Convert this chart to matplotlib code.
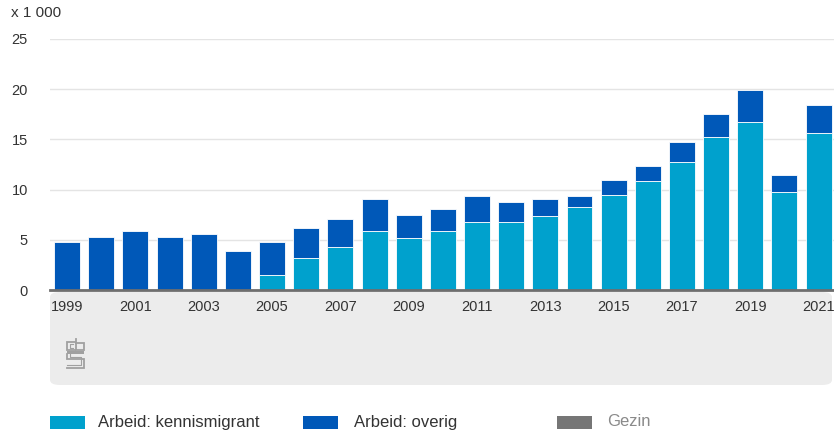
import numpy as np
import matplotlib.pyplot as plt
from matplotlib.patches import FancyBboxPatch, Rectangle

plt.rcParams['font.family'] = ['Liberation Sans', 'DejaVu Sans']

years = list(range(1999, 2022))
totaal = [4.8, 5.25, 5.85, 5.25, 5.6, 3.9, 4.8, 6.2, 7.05, 9.05, 7.5,
          8.05, 9.35, 8.8, 9.05, 9.35, 10.95, 12.4, 14.75, 17.5, 19.95, 11.45, 18.4]
kennismigrant = [0, 0, 0, 0, 0, 0, 1.45, 3.15, 4.25, 5.9, 5.15,
                 5.9, 6.75, 6.75, 7.35, 8.3, 9.45, 10.9, 12.75, 15.25, 16.75, 9.75, 15.6]
overig = [t - k for t, k in zip(totaal, kennismigrant)]
xticks = list(range(1999, 2022, 2))
yticks = [0, 5, 10, 15, 20, 25]

c_kennis = '#00a1cd'
c_overig = '#0058b8'
c_gezin = '#767676'

fig = plt.figure(figsize=(8.34, 4.32), dpi=100)

# grey panel under the axis
panel = FancyBboxPatch((50/834, 1-385/432), 782/834, 93/432,
                       boxstyle='round,pad=0,rounding_size=0.012',
                       transform=fig.transFigure, facecolor='#ececec',
                       edgecolor='none', zorder=-1)
fig.patches.append(panel)

ax = fig.add_axes([50/834, 1-290/432, 784/834, 251/432])
ax.set_facecolor('none')
ax.bar(years, kennismigrant, width=0.76, color=c_kennis, edgecolor='white', linewidth=0.6, zorder=3)
ax.bar(years, overig, width=0.76, bottom=kennismigrant, color=c_overig, edgecolor='white', linewidth=0.6, zorder=3)
ax.set_xlim(1998.5, 2021.45)
ax.set_ylim(0, 25)
ax.set_yticks(yticks)
ax.set_xticks(xticks)
ax.grid(axis='y', color='#e4e4e4', linewidth=1)
ax.set_axisbelow(True)
for s in ['top', 'right', 'left']:
    ax.spines[s].set_visible(False)
ax.spines['bottom'].set_color('#6e6e6e')
ax.spines['bottom'].set_linewidth(2)
ax.spines['bottom'].set_zorder(4)
ax.tick_params(axis='both', length=0, labelsize=10.5, colors='#333333')
ax.tick_params(axis='y', pad=16)
ax.tick_params(axis='x', pad=7)
fig.text(11/834, 1-13/432, 'x 1 000', fontsize=11, color='#333333', va='center')

# cbs logo (simplified)
logo = fig.add_axes([67/834, 1-368/432, 17/834, 29/432])
logo.axis('off')
logo.set_xlim(0, 10)
logo.set_ylim(0, 17)
lc = '#a0a0a0'
kw = dict(color=lc, lw=1.3, clip_on=False, solid_joinstyle='miter')
logo.plot([4.5, 0, 0, 4.5], [15.5, 15.5, 10.5, 10.5], **kw)
logo.plot([3.5, 1.5, 1.5, 3.5], [14, 14, 12, 12], color=lc, lw=0.8, clip_on=False)
logo.plot([5.5, 5.5, 10, 10, 5.5], [17, 10.5, 10.5, 14.5, 14.5], **kw)
logo.add_patch(Rectangle((0, 8.3), 10, 1.4, facecolor=lc, edgecolor='none', clip_on=False))
logo.plot([0, 0, 10, 10, 0], [8.3, 5, 5, 0, 0], **kw)
logo.plot([2, 2, 8.5, 8.5, 0], [8.3, 6.5, 6.5, 1.5, 1.5], color=lc, lw=0.8, clip_on=False)

# legend
items = [(50, 98, c_kennis, 'Arbeid: kennismigrant', '#333333'),
         (303, 354, c_overig, 'Arbeid: overig', '#333333'),
         (557, 607, c_gezin, 'Gezin', '#8a8a8a')]
for x0, xt, col, txt, tc in items:
    fig.patches.append(Rectangle((x0/834, 1-429/432), 35/834, 13/432,
                                 transform=fig.transFigure, facecolor=col, edgecolor='none'))
    fig.text(xt/834, 1-422/432, txt, fontsize=12, color=tc, va='center')

fig.savefig('out.png', dpi=100)
